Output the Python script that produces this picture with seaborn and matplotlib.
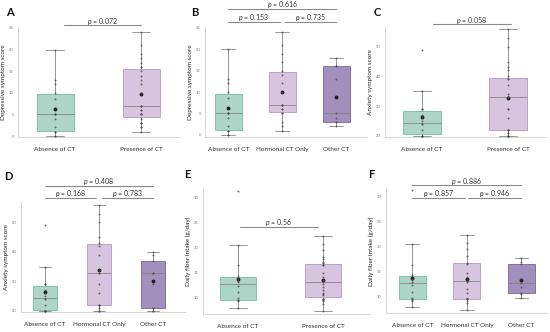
import matplotlib
matplotlib.use('Agg')
import matplotlib.pyplot as plt
import matplotlib.transforms as mtransforms
import pandas as pd
import seaborn as sns

sns.set_style('white')
plt.rcParams['font.family'] = ['Lato', 'DejaVu Sans']
plt.rcParams['mathtext.fontset'] = 'custom'
plt.rcParams['mathtext.it'] = 'Lato:italic'

# ---- data ----
absence_dep = [0, 0, 1, 1, 2, 4, 5, 5, 5, 8.5, 10, 12, 13, 20]
hormonal_dep = [1, 2, 3, 5, 5, 6, 6, 7, 7, 7, 10, 12, 14, 15, 17, 19, 21, 24]
other_dep = [2, 3, 3, 4, 5, 13, 16, 16, 18]

absence_anx = [20, 20, 20, 20, 22, 24, 24, 25, 26, 27, 29, 29, 35, 49]
hormonal_anx = [20, 20, 21, 22, 22, 22, 26, 29, 33, 33, 34, 39, 42, 43, 45, 50, 53, 56]
other_anx = [20, 20, 21, 29, 33, 33, 37, 39, 40]

absence_fib = [7.9, 9.2, 9.4, 9.5, 9.8, 11, 12.3, 13, 13.3, 13.6, 14.3, 16.4, 20.5, 31.3]
hormonal_fib = [7.3, 8.7, 9.2, 9.5, 9.6, 9.7, 10.7, 11.5, 13, 13.2, 14, 14.8, 16.5, 16.8,
                18.1, 19.5, 20.7, 22.3]
other_fib = [9.7, 10.5, 10.8, 12, 12.7, 13.5, 16.5, 17, 17.7]

two_groups = ['Absence of CT', 'Presence of CT']
three_groups = ['Absence of CT', 'Hormonal CT Only', 'Other CT']

p_A = ['0.072']
p_B = ['0.153', '0.735', '0.616']
p_C = ['0.058']
p_D = ['0.168', '0.783', '0.408']
p_E = ['0.56']
p_F = ['0.857', '0.946', '0.886']

fills = {'Absence of CT': '#a6dccb', 'Presence of CT': '#d9c0e2',
         'Hormonal CT Only': '#d9c0e2', 'Other CT': '#9f89c2'}
edges = {'Absence of CT': '#74bba5', 'Presence of CT': '#b597c4',
         'Hormonal CT Only': '#b597c4', 'Other CT': '#7a64a3'}


def make_df(groups, values):
    rows = []
    for g, vals in zip(groups, values):
        for v in vals:
            rows.append((g, v))
    return pd.DataFrame(rows, columns=['group', 'value'])


def px_rect(x0, x1, y0, y1):
    # pixel box (top-left origin) -> figure fraction
    return [x0 / 550, 1 - y1 / 332, (x1 - x0) / 550, (y1 - y0) / 332]


def draw_panel(fig, rect, df, order, width, ylabel, ylim, yticks, xlim):
    ax = fig.add_axes(rect)
    sns.boxplot(data=df, x='group', y='value', hue='group', order=order,
                hue_order=order, palette=fills, width=width, showfliers=False,
                showmeans=True, linewidth=0.6, linecolor='#858585', legend=False,
                meanprops={'marker': 'o', 'markerfacecolor': '#222222',
                           'markeredgecolor': '#222222', 'markersize': 1.8},
                ax=ax)
    for patch, g in zip(ax.patches, order):
        patch.set_edgecolor(edges[g])
    sns.stripplot(data=df, x='group', y='value', order=order, jitter=False,
                  color='#4a4a4a', size=1.4, alpha=0.8, ax=ax)
    ax.set_ylim(*ylim)
    ax.set_xlim(*xlim)
    ax.set_yticks(yticks)
    ax.set_xlabel('')
    ax.set_ylabel(ylabel, fontsize=4.6, labelpad=2)
    ax.tick_params(axis='y', labelsize=3, colors='#777777', length=1.5, width=0.4, pad=1.5)
    ax.tick_params(axis='x', labelsize=4.6, colors='#333333', length=0, pad=7)
    for s in ['top', 'right']:
        ax.spines[s].set_visible(False)
    for s in ['left', 'bottom']:
        ax.spines[s].set_color('#d0d0d0')
        ax.spines[s].set_linewidth(0.6)
    return ax


def sig_bar(ax, x1, x2, y, ytext, label):
    trans = mtransforms.blended_transform_factory(ax.transData, ax.transAxes)
    ax.plot([x1, x2], [y, y], color='#8a8a8a', lw=0.8, transform=trans, clip_on=False)
    ax.text((x1 + x2) / 2, ytext, r'$p$ = ' + label, transform=trans, ha='center',
            va='center', fontsize=5, color='#333333')


fig = plt.figure(figsize=(5.5, 3.32), dpi=100)

dep2 = make_df(two_groups, [absence_dep, hormonal_dep + other_dep])
dep3 = make_df(three_groups, [absence_dep, hormonal_dep, other_dep])
anx2 = make_df(two_groups, [absence_anx, hormonal_anx + other_anx])
anx3 = make_df(three_groups, [absence_anx, hormonal_anx, other_anx])
fib2 = make_df(two_groups, [absence_fib, hormonal_fib + other_fib])
fib3 = make_df(three_groups, [absence_fib, hormonal_fib, other_fib])

axA = draw_panel(fig, px_rect(18, 180, 27, 137), dep2, two_groups, 0.43,
                 'Depressive symptom score', (-0.23, 25.23), [0, 5, 10, 15, 20, 25], (-0.43, 1.45))
sig_bar(axA, 0.1, 1.0, 1.018, 1.05, p_A[0])

axB = draw_panel(fig, px_rect(205, 367, 27, 137), dep3, three_groups, 0.5,
                 'Depressive symptom score', (-0.5, 25.2), [0, 5, 10, 15, 20, 25], (-0.43, 2.57))
sig_bar(axB, 0, 0.95, 1.045, 1.09, p_B[0])
sig_bar(axB, 1.05, 2, 1.045, 1.09, p_B[1])
sig_bar(axB, 0, 2, 1.164, 1.2, p_B[2])

axC = draw_panel(fig, px_rect(385, 545, 27, 137), anx2, two_groups, 0.44,
                 'Anxiety symptom score', (19.66, 56.6), [20, 30, 40, 50], (-0.43, 1.43))
sig_bar(axC, 0.13, 1.03, 1.027, 1.06, p_C[0])

axD = draw_panel(fig, px_rect(21, 185, 202, 312), anx3, three_groups, 0.45,
                 'Anxiety symptom score', (19.66, 56.9), [20, 30, 40, 50], (-0.44, 2.59))
sig_bar(axD, 0, 0.95, 1.036, 1.075, p_D[0])
sig_bar(axD, 1.05, 2, 1.036, 1.075, p_D[1])
sig_bar(axD, 0, 2, 1.145, 1.19, p_D[2])

axE = draw_panel(fig, px_rect(203, 370, 189, 314), fib2, two_groups, 0.43,
                 'Daily fiber intake (g/day)', (6.7, 31.6), [10, 15, 20, 25, 30], (-0.41, 1.55))
sig_bar(axE, 0.02, 0.94, 0.696, 0.73, p_E[0])

axF = draw_panel(fig, px_rect(386, 547, 189, 313), fib3, three_groups, 0.5,
                 'Daily fiber intake (g/day)', (6.74, 31.54), [10, 15, 20, 25, 30], (-0.48, 2.47))
sig_bar(axF, 0, 0.97, 0.927, 0.96, p_F[0])
sig_bar(axF, 1.03, 2, 0.927, 0.96, p_F[1])
sig_bar(axF, 0, 2, 1.032, 1.058, p_F[2])

for letter, (x, y) in zip('ABCDEF', [(10, 13), (195, 13), (377, 13),
                                     (8, 176), (187, 175), (371, 175)]):
    fig.text(x / 550, 1 - y / 332, letter, fontsize=8, fontweight='bold',
             ha='center', va='center', color='#111111')

fig.savefig('out.png', dpi=100)
